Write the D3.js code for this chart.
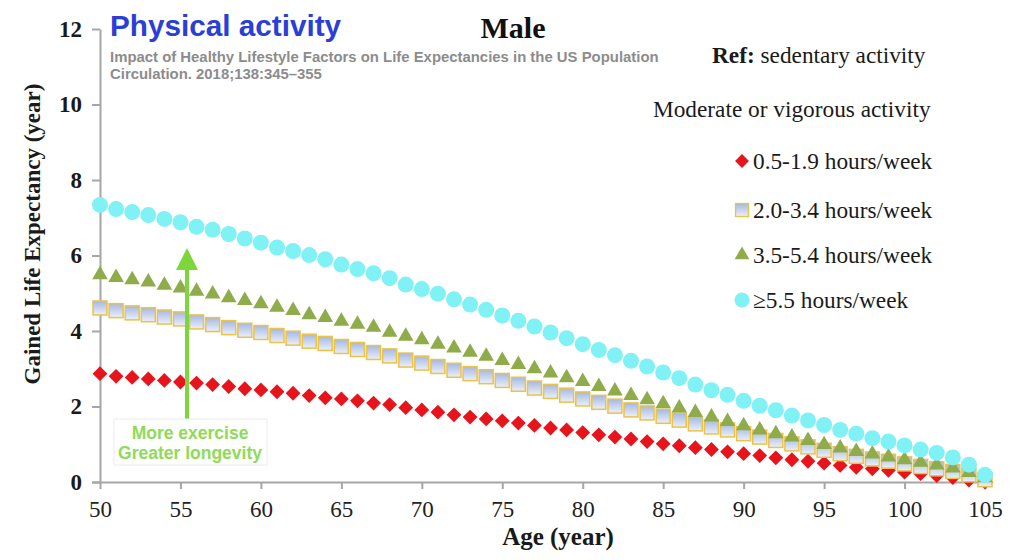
<!DOCTYPE html>
<html lang="en">
<head>
	<meta charset="utf-8">
	<title>Physical activity - Male</title>
	<script src="https://cdn.jsdelivr.net/npm/d3@7"></script>
	<style>
		body { margin: 0; background: #fff; }
		svg { display: block; }
	</style>
</head>
<body>
	<script>
		// ages on the x axis (one point per year)
		var ages = [50, 51, 52, 53, 54, 55, 56, 57, 58, 59, 60, 61, 62, 63, 64, 65, 66, 67, 68, 69,
			70, 71, 72, 73, 74, 75, 76, 77, 78, 79, 80, 81, 82, 83, 84, 85, 86, 87, 88, 89,
			90, 91, 92, 93, 94, 95, 96, 97, 98, 99, 100, 101, 102, 103, 104, 105];

		// gained life expectancy (years)
		var act05to19 = [2.87, 2.80, 2.77, 2.73, 2.69, 2.65, 2.62, 2.58, 2.53, 2.47, 2.44, 2.39, 2.35, 2.29, 2.23, 2.20, 2.15, 2.09, 2.05, 1.97,
			1.91, 1.85, 1.78, 1.72, 1.67, 1.62, 1.56, 1.50, 1.43, 1.38, 1.31, 1.25, 1.19, 1.14, 1.07, 1.01, 0.96, 0.91, 0.86, 0.80,
			0.75, 0.70, 0.64, 0.59, 0.55, 0.50, 0.44, 0.39, 0.35, 0.31, 0.26, 0.22, 0.17, 0.12, 0.05, 0.00];
		var act20to34 = [4.61, 4.54, 4.48, 4.43, 4.37, 4.32, 4.24, 4.17, 4.09, 4.02, 3.96, 3.88, 3.81, 3.73, 3.67, 3.59, 3.51, 3.43, 3.34, 3.23,
			3.15, 3.06, 2.96, 2.87, 2.79, 2.69, 2.59, 2.49, 2.40, 2.30, 2.20, 2.11, 2.01, 1.91, 1.83, 1.74, 1.64, 1.54, 1.46, 1.38,
			1.28, 1.19, 1.10, 1.01, 0.93, 0.84, 0.75, 0.68, 0.61, 0.55, 0.48, 0.41, 0.35, 0.28, 0.19, 0.06];
		var act35to54 = [5.49, 5.42, 5.36, 5.30, 5.21, 5.14, 5.05, 4.98, 4.88, 4.81, 4.72, 4.63, 4.54, 4.43, 4.36, 4.26, 4.18, 4.10, 3.97, 3.86,
			3.77, 3.65, 3.55, 3.44, 3.33, 3.22, 3.11, 3.00, 2.89, 2.76, 2.66, 2.53, 2.41, 2.29, 2.18, 2.07, 1.96, 1.84, 1.72, 1.60,
			1.49, 1.38, 1.28, 1.19, 1.10, 0.99, 0.90, 0.81, 0.74, 0.66, 0.59, 0.52, 0.45, 0.37, 0.25, 0.11];
		var act55plus = [7.34, 7.23, 7.15, 7.07, 6.97, 6.88, 6.76, 6.68, 6.57, 6.45, 6.34, 6.21, 6.12, 6.01, 5.90, 5.76, 5.64, 5.53, 5.40, 5.23,
			5.11, 4.99, 4.84, 4.70, 4.56, 4.41, 4.27, 4.12, 3.96, 3.81, 3.65, 3.50, 3.36, 3.21, 3.06, 2.90, 2.75, 2.58, 2.43, 2.31,
			2.15, 2.02, 1.90, 1.76, 1.63, 1.51, 1.38, 1.28, 1.16, 1.07, 0.97, 0.86, 0.77, 0.65, 0.46, 0.19];

		var seriesNames = ["0.5-1.9 hours/week", "2.0-3.4 hours/week", "3.5-5.4 hours/week", "\u22655.5 hours/week"];
		var xTicks = [50, 55, 60, 65, 70, 75, 80, 85, 90, 95, 100, 105];
		var yTicks = [0, 2, 4, 6, 8, 10, 12];

		var w = 1024;
		var h = 560;

		var svg = d3.select("body")
			.append("svg")
			.attr("width", w)
			.attr("height", h);

		var x = d3.scaleLinear().domain([50, 105]).range([100, 985]);
		var y = d3.scaleLinear().domain([0, 12]).range([482, 29]);

		// gradient for the square markers
		var grad = svg.append("defs").append("linearGradient")
			.attr("id", "sq").attr("x1", 0).attr("y1", 0).attr("x2", 0).attr("y2", 1);
		grad.append("stop").attr("offset", "0%").attr("stop-color", "#a6b8e0");
		grad.append("stop").attr("offset", "100%").attr("stop-color", "#eaf0fb");

		// axes
		var yAxis = svg.append("g")
			.attr("transform", "translate(100,0)")
			.call(d3.axisLeft(y).tickValues(yTicks).tickSize(8).tickSizeOuter(0).tickPadding(10));
		yAxis.selectAll("text")
			.attr("font-family", "Liberation Serif")
			.attr("font-weight", "bold")
			.attr("font-size", 23)
			.attr("fill", "#1a1a1a");

		var xAxis = svg.append("g")
			.attr("transform", "translate(0,482)")
			.call(d3.axisBottom(x).tickValues(xTicks).tickSize(7).tickSizeOuter(0).tickPadding(12));
		xAxis.select(".domain").attr("d", "M" + (x(50) - 8) + ",0.5H" + (x(105) + 8));
		xAxis.selectAll("text")
			.attr("font-family", "Liberation Serif")
			.attr("font-size", 23)
			.attr("fill", "#222");

		svg.selectAll(".domain, .tick line")
			.attr("stroke", "#a6a6a6")
			.attr("stroke-width", 2);

		// axis titles
		svg.append("text")
			.attr("transform", "translate(40,234) rotate(-90)")
			.attr("text-anchor", "middle")
			.attr("font-family", "Liberation Serif")
			.attr("font-weight", "bold")
			.attr("font-size", 23)
			.attr("fill", "#1a1a1a")
			.text("Gained Life Expectancy (year)");

		svg.append("text")
			.attr("x", 558)
			.attr("y", 545)
			.attr("text-anchor", "middle")
			.attr("font-family", "Liberation Serif")
			.attr("font-weight", "bold")
			.attr("font-size", 25)
			.attr("fill", "#1a1a1a")
			.text("Age (year)");

		// series markers, drawn in the order of the legend
		var pts = function(vals) {
			return vals.map(function(v, i) { return [ages[i], v]; });
		};

		svg.append("g").selectAll("path")
			.data(pts(act05to19))
			.enter()
			.append("path")
			.attr("d", d3.symbol().type(d3.symbolSquare).size(110))
			.attr("transform", function(d) { return "translate(" + x(d[0]) + "," + y(d[1]) + ") rotate(45)"; })
			.attr("fill", "#e8141b");

		svg.append("g").selectAll("rect")
			.data(pts(act20to34))
			.enter()
			.append("rect")
			.attr("x", function(d) { return x(d[0]) - 7; })
			.attr("y", function(d) { return y(d[1]) - 7; })
			.attr("width", 14)
			.attr("height", 14)
			.attr("fill", "url(#sq)")
			.attr("stroke", "#ebc24a")
			.attr("stroke-width", 1.5);

		svg.append("g").selectAll("path")
			.data(pts(act35to54))
			.enter()
			.append("path")
			.attr("d", d3.symbol().type(d3.symbolTriangle).size(105))
			.attr("transform", function(d) { return "translate(" + x(d[0]) + "," + y(d[1]) + ")"; })
			.attr("fill", "#8fab4a");

		svg.append("g").selectAll("circle")
			.data(pts(act55plus))
			.enter()
			.append("circle")
			.attr("cx", function(d) { return x(d[0]); })
			.attr("cy", function(d) { return y(d[1]); })
			.attr("r", 8)
			.attr("fill", "#80f1f5");

		// titles
		svg.append("text")
			.attr("x", 110)
			.attr("y", 36)
			.attr("font-family", "Liberation Sans")
			.attr("font-weight", "bold")
			.attr("font-size", 29.7)
			.attr("fill", "#2b3fd6")
			.text("Physical activity");

		svg.append("text")
			.attr("x", 513)
			.attr("y", 38)
			.attr("text-anchor", "middle")
			.attr("font-family", "Liberation Serif")
			.attr("font-weight", "bold")
			.attr("font-size", 30)
			.attr("fill", "#111")
			.text("Male");

		var sub = ["Impact of Healthy Lifestyle Factors on Life Expectancies in the US Population",
			"Circulation. 2018;138:345\u2013355"];
		svg.append("g").selectAll("text")
			.data(sub)
			.enter()
			.append("text")
			.attr("x", 110)
			.attr("y", function(d, i) { return 62 + i * 17; })
			.attr("font-family", "Liberation Sans")
			.attr("font-weight", "bold")
			.attr("font-size", 14.9)
			.attr("fill", "#8c8c8c")
			.text(function(d) { return d; });

		// legend
		var ref = svg.append("text")
			.attr("x", 712)
			.attr("y", 63)
			.attr("font-family", "Liberation Serif")
			.attr("font-size", 23.3)
			.attr("fill", "#1a1a1a");
		ref.append("tspan").attr("font-weight", "bold").text("Ref:");
		ref.append("tspan").text(" sedentary activity");

		svg.append("text")
			.attr("x", 653)
			.attr("y", 117)
			.attr("font-family", "Liberation Serif")
			.attr("font-size", 23.3)
			.attr("fill", "#1a1a1a")
			.text("Moderate or vigorous activity");

		var legY = [161, 210, 255, 300];
		var leg = svg.append("g").selectAll("g")
			.data(seriesNames)
			.enter()
			.append("g")
			.attr("transform", function(d, i) { return "translate(742," + legY[i] + ")"; });
		leg.append("text")
			.attr("x", 11)
			.attr("y", 8)
			.attr("font-family", "Liberation Serif")
			.attr("font-size", 23.3)
			.attr("fill", "#1a1a1a")
			.text(function(d) { return d; });
		leg.filter(function(d, i) { return i === 0; }).append("path")
			.attr("d", d3.symbol().type(d3.symbolSquare).size(96))
			.attr("transform", "rotate(45)")
			.attr("fill", "#e8141b");
		leg.filter(function(d, i) { return i === 1; }).append("rect")
			.attr("x", -6.5).attr("y", -6.5).attr("width", 13).attr("height", 13)
			.attr("fill", "url(#sq)").attr("stroke", "#ebc24a").attr("stroke-width", 1.3);
		leg.filter(function(d, i) { return i === 2; }).append("path")
			.attr("d", d3.symbol().type(d3.symbolTriangle).size(95))
			.attr("fill", "#8fab4a");
		leg.filter(function(d, i) { return i === 3; }).append("circle")
			.attr("r", 7.5)
			.attr("fill", "#80f1f5");

		// annotation arrow
		svg.append("line")
			.attr("x1", 187).attr("y1", 420)
			.attr("x2", 187).attr("y2", 266)
			.attr("stroke", "#7dd63c")
			.attr("stroke-width", 4);
		svg.append("path")
			.attr("d", "M187,248 L198,270 L176,270 Z")
			.attr("fill", "#7dd63c");

		svg.append("rect")
			.attr("x", 114).attr("y", 419)
			.attr("width", 153).attr("height", 46)
			.attr("fill", "#fff")
			.attr("stroke", "#ececec");
		svg.append("g").selectAll("text")
			.data(["More exercise", "Greater longevity"])
			.enter()
			.append("text")
			.attr("x", 190)
			.attr("y", function(d, i) { return 439 + i * 20; })
			.attr("text-anchor", "middle")
			.attr("font-family", "Liberation Sans")
			.attr("font-weight", "bold")
			.attr("font-size", 17.5)
			.attr("fill", "#8edb58")
			.text(function(d) { return d; });
	</script>
</body>
</html>
